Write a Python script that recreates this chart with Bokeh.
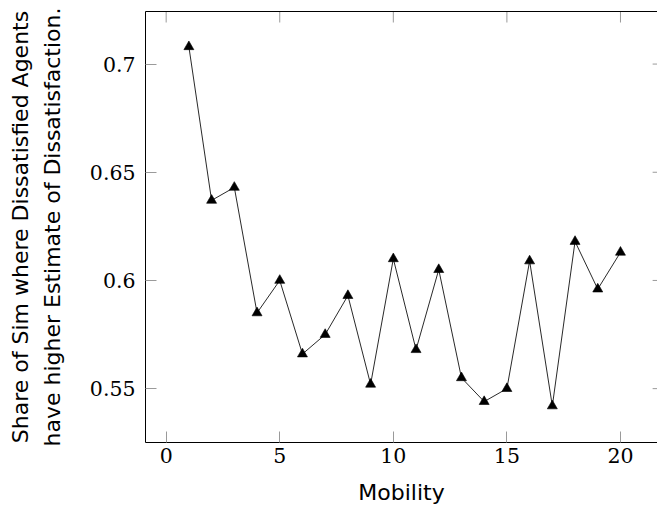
from bokeh.plotting import figure
from bokeh.models import Range1d, FixedTicker, LinearAxis
from bokeh.embed import file_html
from bokeh.resources import INLINE

mobility = [1, 2, 3, 4, 5, 6, 7, 8, 9, 10, 11, 12, 13, 14, 15, 16, 17, 18, 19, 20]
share = [0.708, 0.637, 0.643, 0.585, 0.600, 0.566, 0.575, 0.593, 0.552, 0.610,
         0.568, 0.605, 0.555, 0.544, 0.550, 0.609, 0.542, 0.618, 0.596, 0.613]

x_ticks = [0, 5, 10, 15, 20]
y_ticks = [0.55, 0.6, 0.65, 0.7]
y_tick_labels = ["0.55", "0.6", "0.65", "0.7"]

x_label = "Mobility"
y_label = "Share of Sim where Dissatisfied Agents\nhave higher Estimate of Dissatisfaction."

SERIF = "DejaVu Serif"
SANS = "DejaVu Sans"

X0, X1 = -0.91, 21.63      # visible x extent (frame is cut at the right page edge)
X_RIGHT = 21.9             # where the (off-page) right frame edge lies
Y0, Y1 = 0.5251, 0.7243
FRAME_W, FRAME_H = 512, 431
TICK_PX = 11
TICK_COLOR = "#9a9a9a"

p = figure(width=657, height=512,
           x_range=Range1d(X0, X1), y_range=Range1d(Y0, Y1),
           output_backend="svg", toolbar_location=None,
           min_border_left=145, min_border_right=0,
           min_border_top=11, min_border_bottom=70)
p.outline_line_color = None
p.xgrid.visible = False
p.ygrid.visible = False
p.background_fill_color = "white"
p.border_fill_color = "white"


def style_axis(ax, ticks):
    ax.ticker = FixedTicker(ticks=ticks)
    ax.major_tick_in = TICK_PX
    ax.major_tick_out = 0
    ax.minor_tick_in = 0
    ax.minor_tick_out = 0
    ax.major_tick_line_color = TICK_COLOR
    ax.major_tick_line_width = 1
    ax.axis_line_color = "black"
    ax.axis_line_width = 1
    ax.major_label_text_font = SERIF
    ax.major_label_text_font_size = "20.5px"
    ax.major_label_text_color = "black"
    ax.axis_label_text_font = SANS
    ax.axis_label_text_font_size = "22px"
    ax.axis_label_text_font_style = "normal"
    ax.axis_label_text_color = "black"


xa = p.xaxis[0]
style_axis(xa, x_ticks)
xa.major_label_standoff = 5
xa.axis_label = x_label
xa.axis_label_standoff = 14

ya = p.yaxis[0]
style_axis(ya, y_ticks)
ya.major_label_overrides = {t: l for t, l in zip(y_ticks, y_tick_labels)}
ya.major_label_standoff = 10
ya.axis_label = y_label
ya.axis_label_standoff = 22
ya.axis_label_text_line_height = 1.29

top = LinearAxis(ticker=FixedTicker(ticks=[]), axis_line_color="black",
                 axis_line_width=1, major_tick_out=0, major_tick_in=0,
                 minor_tick_in=0, minor_tick_out=0, major_label_standoff=0)
p.add_layout(top, "above")

# inward ticks on the top frame edge and on the (cut-off) right frame edge
tick_len_y = TICK_PX * (Y1 - Y0) / FRAME_H
tick_len_x = TICK_PX * (X1 - X0) / FRAME_W
p.segment(x0=x_ticks, y0=[Y1] * len(x_ticks), x1=x_ticks,
          y1=[Y1 - tick_len_y] * len(x_ticks), line_color=TICK_COLOR, line_width=1)
p.segment(x0=[X_RIGHT - tick_len_x] * len(y_ticks), y0=y_ticks,
          x1=[X_RIGHT] * len(y_ticks), y1=y_ticks, line_color=TICK_COLOR, line_width=1)

p.line(mobility, share, line_color="#111111", line_width=0.9)
p.scatter(mobility, share, marker="triangle", size=10,
          fill_color="black", line_color="black", line_width=0.6)

open("out.html", "w").write(file_html(p, INLINE))
